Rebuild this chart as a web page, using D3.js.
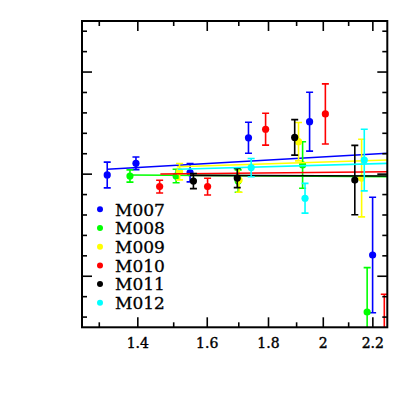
<!DOCTYPE html>
<html>
<head>
<meta charset="utf-8">
<script src="https://cdn.jsdelivr.net/npm/d3@7"></script>
<style>
body{margin:0;background:#fff}
</style>
</head>
<body>
<svg id="svg" width="409" height="409"></svg>
<script>
// series data (x, y, error)
var names=["M007","M008","M009","M010","M011","M012"]
var colors=["#0000ff","#00ff00","#ffff00","#ff0000","#000000","#00ffff"]

var m007X=[1.320,1.395,1.548,1.732,1.948,2.199]
var m007Y=[-0.004,0.053,0.007,0.178,0.257,-0.396]
var m007E=[0.063,0.031,0.045,0.076,0.144,0.283]

var m008X=[1.379,1.507,1.698,1.922,2.176]
var m008Y=[-0.009,-0.009,-0.034,0.045,-0.675]
var m008E=[0.030,0.033,0.055,0.114,0.217]

var m009X=[1.517,1.701,1.907,2.153]
var m009Y=[0.012,-0.029,0.159,-0.019]
var m009E=[0.040,0.060,0.094,0.190]

var m010X=[1.460,1.601,1.790,2.008,2.249]
var m010Y=[-0.061,-0.061,0.220,0.295,-0.850]
var m010E=[0.031,0.041,0.078,0.147,0.262]

var m011X=[1.558,1.695,1.893,2.125]
var m011Y=[-0.034,-0.019,0.180,-0.029]
var m011E=[0.037,0.047,0.087,0.170]

var m012X=[1.741,1.931,2.164]
var m012Y=[0.032,-0.118,0.069]
var m012E=[0.045,0.073,0.151]

// fit lines: start x, y at start, y at right edge
var fitX0=[1.320,1.379,1.509,1.462,1.548,1.512]
var fitY0=[0.024,-0.004,0.036,0.001,-0.006,0.024]
var fitY1=[0.102,-0.012,0.069,0.012,-0.009,0.053]

var xMajor=[1.4,1.6,1.8,2,2.2]
var xMinor=[1.3,1.5,1.7,1.9,2.1]
var yMajor=[-0.5,0,0.5]
var yMinor=[-0.7,-0.6,-0.4,-0.3,-0.2,-0.1,0.1,0.2,0.3,0.4,0.6,0.7]

var xData=[m007X,m008X,m009X,m010X,m011X,m012X]
var yData=[m007Y,m008Y,m009Y,m010Y,m011Y,m012Y]
var eData=[m007E,m008E,m009E,m010E,m011E,m012E]

var svg=d3.select("#svg")
var pLeft=82,pRight=387.3,pTop=21,pBottom=327.3

var x=d3.scaleLog().domain([1.2575,2.262]).range([pLeft,pRight])
var y=d3.scaleLinear().domain([-0.75,0.75]).range([pBottom,pTop])

svg.append("rect").attr("width",409).attr("height",409).attr("fill","#fff")

svg.append("clipPath").attr("id","clip")
  .append("rect").attr("x",pLeft).attr("y",pTop).attr("width",pRight-pLeft).attr("height",pBottom-pTop)

var plot=svg.append("g").attr("clip-path","url(#clip)")

names.forEach(function(n,s){
    var g=plot.append("g")
    var pts=xData[s].map(function(v,i){return {x:v,y:yData[s][i],e:eData[s][i]}})
    // error bars
    var eb=g.selectAll(".eb").data(pts).enter().append("g")
    eb.append("line")
        .attr("x1",d=>x(d.x)).attr("x2",d=>x(d.x))
        .attr("y1",d=>y(d.y+d.e)).attr("y2",d=>y(d.y-d.e))
    eb.append("line")
        .attr("x1",d=>x(d.x)-3.5).attr("x2",d=>x(d.x)+3.5)
        .attr("y1",d=>y(d.y+d.e)).attr("y2",d=>y(d.y+d.e))
    eb.append("line")
        .attr("x1",d=>x(d.x)-3.5).attr("x2",d=>x(d.x)+3.5)
        .attr("y1",d=>y(d.y-d.e)).attr("y2",d=>y(d.y-d.e))
    eb.selectAll("line").attr("stroke",colors[s]).attr("stroke-width",1.6)
    // points
    g.selectAll("circle").data(pts).enter().append("circle")
        .attr("cx",d=>x(d.x)).attr("cy",d=>y(d.y)).attr("r",3.6)
        .attr("fill",colors[s])
    // fit line
    g.append("path")
        .datum([[fitX0[s],fitY0[s]],[2.262,fitY1[s]]])
        .attr("d",d3.line().x(d=>x(d[0])).y(d=>y(d[1])))
        .attr("stroke",colors[s]).attr("stroke-width",1.6).attr("fill","none")
})

// frame
svg.append("rect").attr("x",pLeft).attr("y",pTop).attr("width",pRight-pLeft).attr("height",pBottom-pTop)
  .attr("fill","none").attr("stroke","#000").attr("stroke-width",2)

// ticks, inside on all sides
function xTicks(vals,len){
    svg.append("g").selectAll("line").data(vals).enter().append("line")
        .attr("x1",d=>x(d)).attr("x2",d=>x(d)).attr("y1",pBottom).attr("y2",pBottom-len)
        .attr("stroke","#000").attr("stroke-width",1.6)
    svg.append("g").selectAll("line").data(vals).enter().append("line")
        .attr("x1",d=>x(d)).attr("x2",d=>x(d)).attr("y1",pTop).attr("y2",pTop+len)
        .attr("stroke","#000").attr("stroke-width",1.6)
}
function yTicks(vals,len){
    svg.append("g").selectAll("line").data(vals).enter().append("line")
        .attr("y1",d=>y(d)).attr("y2",d=>y(d)).attr("x1",pLeft).attr("x2",pLeft+len)
        .attr("stroke","#000").attr("stroke-width",1.6)
    svg.append("g").selectAll("line").data(vals).enter().append("line")
        .attr("y1",d=>y(d)).attr("y2",d=>y(d)).attr("x1",pRight).attr("x2",pRight-len)
        .attr("stroke","#000").attr("stroke-width",1.6)
}
xTicks(xMajor,10);xTicks(xMinor,5)
yTicks(yMajor,10);yTicks(yMinor,5)

svg.append("g").selectAll("text").data(xMajor).enter().append("text")
    .attr("x",d=>x(d)).attr("y",348)
    .attr("text-anchor","middle")
    .style("font-family","DejaVu Serif").style("font-size","14px")
    .style("stroke","#000").style("stroke-width","0.4px")
    .text(d=>d)

// legend
var lg=svg.append("g").selectAll("g").data(names).enter().append("g")
    .attr("transform",(d,i)=>"translate(100,"+(209.3+i*18.7)+")")
lg.append("circle").attr("r",3).attr("fill",(d,i)=>colors[i])
lg.append("text").attr("x",15).attr("y",6.2)
    .style("font-family","DejaVu Serif").style("font-size","17px")
    .style("stroke","#000").style("stroke-width","0.3px")
    .text(d=>d)
</script>
</body>
</html>
